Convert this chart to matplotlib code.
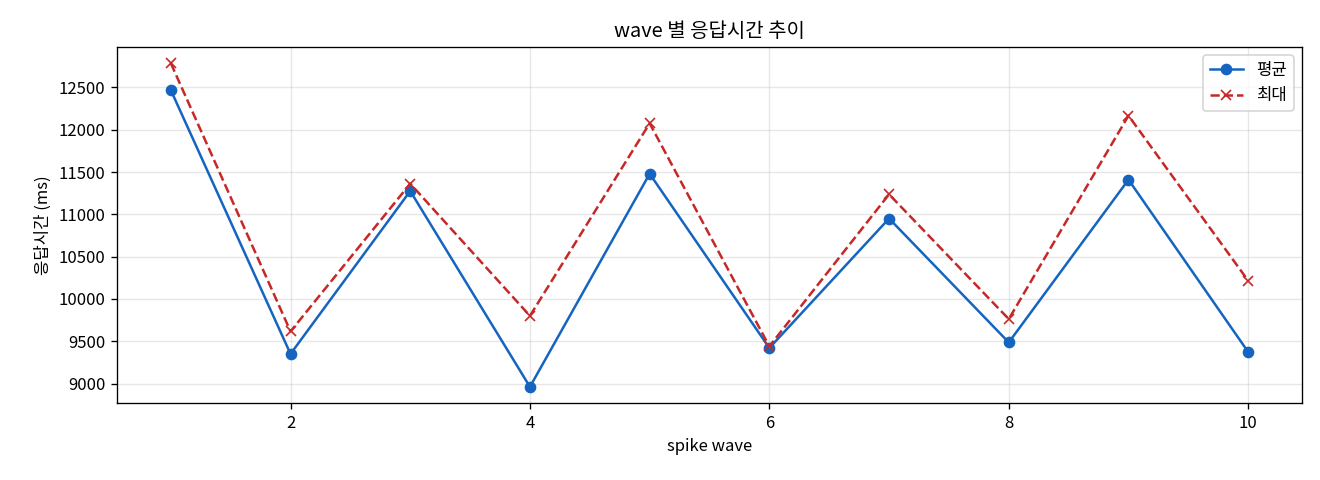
import matplotlib
matplotlib.use("Agg")
import matplotlib.pyplot as plt

plt.rcParams['font.family'] = ['Noto Sans CJK KR', 'DejaVu Sans']
plt.rcParams['axes.unicode_minus'] = False

waves = [1, 2, 3, 4, 5, 6, 7, 8, 9, 10]
avg_ms = [12469, 9350, 11276, 8961, 11480, 9420, 10951, 9486, 11410, 9373]
max_ms = [12787, 9616, 11363, 9800, 12076, 9440, 11237, 9762, 12167, 10216]

fig, ax = plt.subplots(figsize=(11, 4), dpi=120)

ax.plot(waves, avg_ms, marker='o', color='#1565C0', label='평균', markersize=6, linewidth=1.5)
ax.plot(waves, max_ms, marker='x', linestyle='--', color='#C62828', label='최대', markersize=6, linewidth=1.5)

ax.set_title('wave 별 응답시간 추이')
ax.set_xlabel('spike wave')
ax.set_ylabel('응답시간 (ms)')
ax.grid(True, alpha=0.3)
ax.legend(loc='upper right')

# match the reference axes box
fig.subplots_adjust(left=0.0886, right=0.9864, top=0.902, bottom=0.1604)
plt.savefig('out.png')
